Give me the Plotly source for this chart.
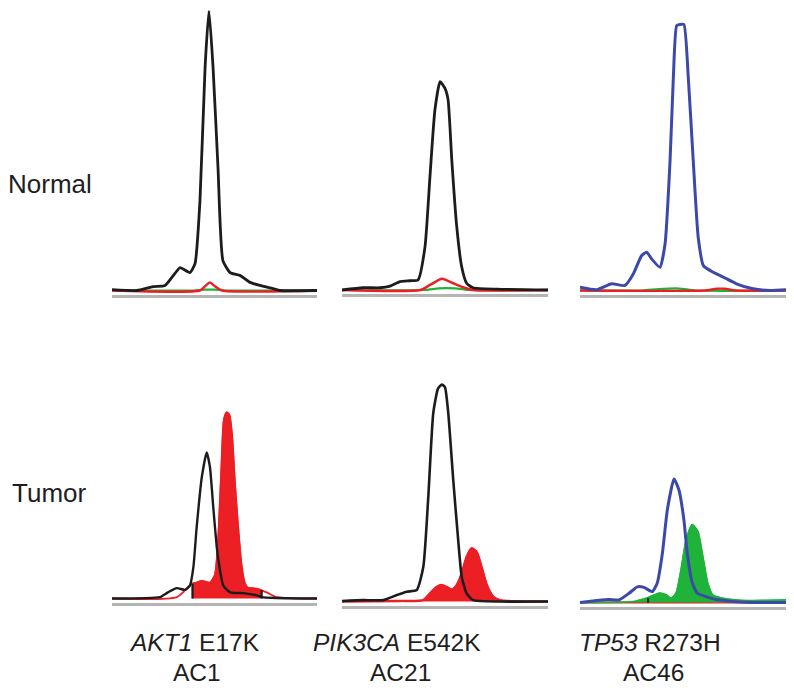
import plotly.graph_objects as go

W, H = 794, 698
PAGE_OFF = 8  # default body margin of the html page

# ---------------- data (x: position along trace 0-100, y: signal intensity) ----------------
# Panel 1: AKT1 normal
AKT1_N_BLACK_X = [0, 12.2, 20, 25.9, 30.7, 33.2, 38, 40.5, 42.9, 45.4, 47.3, 49.3, 51.7, 54.1, 57.6, 62.4, 67.3, 72.2, 78.5, 82, 100]
AKT1_N_BLACK_Y = [0.3, 0, 1.4, 1.8, 6.1, 8.2, 6.4, 9.6, 32, 79.6, 100, 79.6, 43.9, 10.7, 6.4, 5.4, 2.9, 1.8, 0.7, 0, 0]
AKT1_N_RED_X = [0, 42.9, 45.4, 47.8, 50.2, 53.7, 100]
AKT1_N_RED_Y = [0, 0, 1.5, 2.9, 1.5, 0, 0]
AKT1_N_GREEN_X = [0, 40, 45, 50, 55, 100]
AKT1_N_GREEN_Y = [0, 0, 0.3, 0.3, 0, 0]

# Panel 2: PIK3CA normal
PIK3CA_N_BLACK_X = [0, 10.2, 18.4, 23.3, 28.2, 33, 36.9, 40.3, 42.7, 45.1, 47.6, 50, 51.5, 53.3, 55.7, 58.1, 60.5, 63.6, 75.2, 100]
PIK3CA_N_BLACK_Y = [0, 0.8, 0.8, 1.4, 3, 3.3, 3.6, 15.5, 40.5, 64.3, 74.4, 72, 67.9, 46.4, 22.6, 8.3, 2.4, 0.8, 0.3, 0]
PIK3CA_N_RED_X = [0, 37.9, 42.7, 48.5, 53.4, 58.7, 63.6, 100]
PIK3CA_N_RED_Y = [0, 0, 1.8, 4, 2.6, 1, 0, 0]
PIK3CA_N_GREEN_X = [0, 40, 47, 55, 62, 100]
PIK3CA_N_GREEN_Y = [0, 0, 0.6, 0.6, 0, 0]

# Panel 3: TP53 normal
TP53_N_BLUE_X = [0, 8.1, 15.3, 21.7, 25.8, 29.8, 32.2, 34.6, 38.6, 41.1, 43.5, 45.1, 46.7, 48.3, 50.2, 52.3, 54.7, 57.1, 59.6, 64.4, 69.2, 75.6, 83.6, 91.8, 100]
TP53_N_BLUE_Y = [1.2, 0.3, 2.4, 1.8, 6, 12.5, 13.7, 11.3, 8.3, 16.7, 46.4, 76.2, 94.6, 95, 95, 76.2, 46.4, 19, 8.9, 6.5, 4.8, 2.4, 0.6, 0, 0.3]
TP53_N_RED_X = [0, 60, 66, 70, 75, 100]
TP53_N_RED_Y = [0, 0, 0.6, 0.6, 0, 0]
TP53_N_GREEN_X = [0, 30, 38, 48, 56, 100]
TP53_N_GREEN_Y = [0, 0, 0.5, 0.7, 0, 0]

# Panel 4: AKT1 tumor
AKT1_T_BLACK_X = [0, 23.4, 27.3, 31.6, 35.6, 38, 39.7, 41.3, 43.8, 46.2, 47.8, 49.4, 51.1, 51.9, 54.3, 57.6, 64, 70.6, 73, 80.3, 100]
AKT1_T_BLACK_Y = [0, 0.5, 2.2, 3.7, 3.1, 4.6, 11.2, 25.5, 43.3, 52.2, 46.8, 32.6, 18.3, 13.8, 4.6, 2.2, 1.9, 1.1, 0.5, 0.2, 0]
AKT1_T_RED_X = [0, 31.6, 38.9, 41.3, 43.8, 47.8, 50.2, 51.6, 53.2, 54.6, 56, 57.3, 58.6, 60, 61.6, 63.2, 64.6, 66, 70.6, 73, 75.5, 80.3, 100]
AKT1_T_RED_Y = [0, 0.5, 5.3, 5.7, 6.3, 5.7, 8.5, 19, 44, 64, 66.5, 65.5, 58, 41, 25, 12, 6, 4, 3.5, 2.9, 2.2, 0.5, 0]
AKT1_T_FILL_RANGE = [38.9, 73]
AKT1_T_TICK_X = [39.3, 73]
AKT1_T_TICK_H = [5.3, 3]

# Panel 5: PIK3CA tumor
PIK3CA_T_BLACK_X = [0, 10.3, 20, 26.6, 31.4, 36.3, 39.5, 41.9, 44.3, 46.6, 48.5, 50, 51.6, 54, 56.4, 58.1, 60.5, 63.7, 76.7, 100]
PIK3CA_T_BLACK_Y = [0.2, 0.5, 0.5, 2.3, 3.5, 4.1, 12.5, 37.5, 67.3, 76, 77.5, 76.5, 67.2, 43.4, 22, 8.8, 2.9, 0.5, 0, 0]
PIK3CA_T_RED_X = [0, 28.2, 39.5, 42.7, 45.9, 48.4, 50.8, 53.3, 55.7, 58.1, 60.5, 63, 65.4, 67.8, 70.3, 73.5, 76.7, 100]
PIK3CA_T_RED_Y = [0, 0.2, 0.5, 2.9, 5.2, 5.9, 5.2, 4.3, 5.9, 10, 16, 19, 17.7, 12.3, 5.9, 1.7, 0.5, 0]
PIK3CA_T_FILL_RANGE = [39.5, 76.7]

# Panel 6: TP53 tumor
TP53_T_BLUE_X = [0, 8.1, 14, 18.8, 23.7, 27.7, 30.9, 34.9, 37.3, 39.8, 42.2, 45.4, 47.8, 50.2, 51.8, 54.3, 56.7, 60.8, 65.7, 75.4, 83.4, 100]
TP53_T_BLUE_Y = [0, 0.7, 1.1, 0.9, 3.3, 5.6, 5.4, 3.9, 6.9, 17.6, 33.1, 44.1, 40.2, 29.5, 17.6, 6.9, 3.3, 2.1, 1.1, 0.3, 0, 0]
TP53_T_GREEN_X = [0, 23.7, 27.1, 32, 38.4, 41.6, 44, 46.4, 48.8, 51.3, 54.2, 56.9, 59.3, 61.7, 64.1, 69, 78.6, 100]
TP53_T_GREEN_Y = [0, 0.2, 0.5, 1.5, 3.3, 2.7, 1.5, 3.3, 11.6, 22.3, 27.8, 25.4, 16.5, 6.9, 2.7, 1.5, 0.7, 0.9]
TP53_T_FILL_RANGE = [27.1, 100]
TP53_T_TICK_X = [32.9]
TP53_T_TICK_H = [1.5]

ROW_LABELS = ["Normal", "Tumor"]
GENES = ["AKT1", "PIK3CA", "TP53"]
MUTATIONS = ["E17K", "E542K", "R273H"]
CASES = ["AC1", "AC21", "AC46"]

# ---------------- styling ----------------
BLACK = "#1c1c1c"
BLUE = "#3b4aaa"
RED = "#ec1f24"
GREEN = "#20b33a"
GREY = "#b5b5b5"
TEXT = "#1e1e1e"
FONT = "Arial, Liberation Sans, sans-serif"
PXS = 2.8  # pixels per intensity unit

FW, FH = W - PAGE_OFF, H - PAGE_OFF


def fx(px):
    return (px - PAGE_OFF) / FW


def fy(py):
    return 1 - (py - PAGE_OFF) / FH


# panel geometry in pixels: (x0, x1, y_top, y_grey, baseline_offset)
panels = [
    (112, 317, 2.5 + PAGE_OFF, 294.5, 4.0),
    (342, 548, 2.5 + PAGE_OFF, 294.0, 4.0),
    (580, 787, 2.5 + PAGE_OFF, 294.5, 4.0),
    (112, 317, 310.5, 602.5, 4.0),
    (342, 548, 314.0, 606.0, 4.5),
    (580, 787, 315.0, 607.0, 4.5),
]

fig = go.Figure()
layout = dict(width=FW, height=FH, margin=dict(l=0, r=0, t=0, b=0),
              paper_bgcolor="white", plot_bgcolor="white", showlegend=False)

for i, (x0, x1, yt, yg, off) in enumerate(panels):
    n = i + 1
    xa = "xaxis" if n == 1 else f"xaxis{n}"
    ya = "yaxis" if n == 1 else f"yaxis{n}"
    hpx = yg - yt
    layout[xa] = dict(domain=[fx(x0), fx(x1)], range=[0, 100], anchor=f"y{n if n > 1 else ''}",
                      showgrid=False, zeroline=False, showticklabels=False, ticks="",
                      showline=True, linecolor=GREY, linewidth=3)
    layout[ya] = dict(domain=[fy(yg), fy(yt)], range=[-off / PXS, (hpx - off) / PXS],
                      anchor=f"x{n if n > 1 else ''}", showgrid=False, zeroline=False,
                      showticklabels=False, ticks="", showline=False)


def ref(n):
    return ("x" if n == 1 else f"x{n}"), ("y" if n == 1 else f"y{n}")


def line(n, xs, ys, color, width=2.2, smooth=0.6):
    xr, yr = ref(n)
    fig.add_trace(go.Scatter(x=xs, y=ys, mode="lines", xaxis=xr, yaxis=yr,
                             line=dict(color=color, width=width, shape="spline", smoothing=smooth),
                             hoverinfo="skip"))


def filled(n, xs, ys, rng, color):
    xr, yr = ref(n)
    sx = [x for x in xs if rng[0] <= x <= rng[1]]
    sy = [y for x, y in zip(xs, ys) if rng[0] <= x <= rng[1]]
    fig.add_trace(go.Scatter(x=sx, y=sy, mode="lines", xaxis=xr, yaxis=yr, fill="tozeroy",
                             fillcolor=color, line=dict(color=color, width=1.5, shape="spline", smoothing=0.6),
                             hoverinfo="skip"))


def ticks(n, xs, hs):
    xr, yr = ref(n)
    tx, ty = [], []
    for x, h in zip(xs, hs):
        tx += [x, x, None]
        ty += [0, h, None]
    fig.add_trace(go.Scatter(x=tx, y=ty, mode="lines", xaxis=xr, yaxis=yr,
                             line=dict(color=BLACK, width=2.2), hoverinfo="skip"))


# Panel 1
line(1, AKT1_N_GREEN_X, AKT1_N_GREEN_Y, GREEN, 2.2)
line(1, AKT1_N_RED_X, AKT1_N_RED_Y, RED, 2.4)
line(1, AKT1_N_BLACK_X, AKT1_N_BLACK_Y, BLACK, 2.8, 0.5)
# Panel 2
line(2, PIK3CA_N_GREEN_X, PIK3CA_N_GREEN_Y, GREEN, 2.2)
line(2, PIK3CA_N_RED_X, PIK3CA_N_RED_Y, RED, 2.6)
line(2, PIK3CA_N_BLACK_X, PIK3CA_N_BLACK_Y, BLACK, 2.8, 0.5)
# Panel 3
line(3, TP53_N_GREEN_X, TP53_N_GREEN_Y, GREEN, 2.2)
line(3, TP53_N_RED_X, TP53_N_RED_Y, RED, 2.4)
line(3, TP53_N_BLUE_X, TP53_N_BLUE_Y, BLUE, 3.0, 0.5)
# Panel 4
filled(4, AKT1_T_RED_X, AKT1_T_RED_Y, AKT1_T_FILL_RANGE, RED)
line(4, AKT1_T_RED_X, AKT1_T_RED_Y, RED, 1.8)
line(4, AKT1_T_BLACK_X, AKT1_T_BLACK_Y, BLACK, 2.4, 0.5)
ticks(4, AKT1_T_TICK_X, AKT1_T_TICK_H)
# Panel 5
filled(5, PIK3CA_T_RED_X, PIK3CA_T_RED_Y, PIK3CA_T_FILL_RANGE, RED)
line(5, PIK3CA_T_RED_X, PIK3CA_T_RED_Y, RED, 2.4)
line(5, PIK3CA_T_BLACK_X, PIK3CA_T_BLACK_Y, BLACK, 2.6, 0.5)
# Panel 6
line(6, [0, 100], [0, 0], RED, 2.2)
filled(6, TP53_T_GREEN_X, TP53_T_GREEN_Y, TP53_T_FILL_RANGE, GREEN)
line(6, TP53_T_GREEN_X, TP53_T_GREEN_Y, GREEN, 1.8)
line(6, TP53_T_BLUE_X, TP53_T_BLUE_Y, BLUE, 3.0, 0.5)
ticks(6, TP53_T_TICK_X, TP53_T_TICK_H)

# ---------------- text ----------------
annotations = []
row_label_pos = [(50, 184), (49, 493)]
for lab, (px, py) in zip(ROW_LABELS, row_label_pos):
    annotations.append(dict(text=lab, x=fx(px), y=fy(py), xref="paper", yref="paper",
                            showarrow=False, xanchor="center", yanchor="middle",
                            font=dict(family=FONT, size=26, color=TEXT)))
col_centers = [194, 397, 650]
for g, m, c, cx in zip(GENES, MUTATIONS, CASES, col_centers):
    annotations.append(dict(text=f"<i>{g}</i> {m}", x=fx(cx), y=fy(642), xref="paper", yref="paper",
                            showarrow=False, xanchor="center", yanchor="middle",
                            font=dict(family=FONT, size=24.5, color=TEXT)))
    annotations.append(dict(text=c, x=fx(cx + 3), y=fy(672), xref="paper", yref="paper",
                            showarrow=False, xanchor="center", yanchor="middle",
                            font=dict(family=FONT, size=24.5, color=TEXT)))
layout["annotations"] = annotations

fig.update_layout(**layout)
fig.write_html("out.html")
